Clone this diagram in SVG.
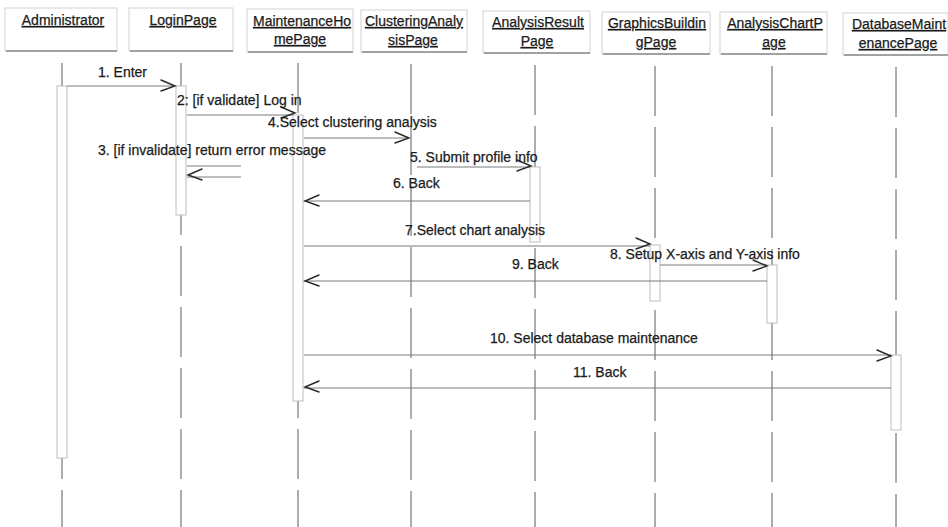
<svg xmlns="http://www.w3.org/2000/svg" xmlns:xlink="http://www.w3.org/1999/xlink" width="948" height="527" viewBox="0 0 948 527">
  <style>
    .hdr { fill: #ffffff; stroke: #d2d2d2; stroke-width: 1; }
    .shadow { stroke: #8a8a8a; stroke-width: 1.6; }
    .name { font-family: "Liberation Sans", Arial, sans-serif; font-size: 14px; fill: #1a1a1a; stroke: #1a1a1a; stroke-width: 0.25; text-anchor: middle; text-decoration: underline; }
    .life { stroke: #5a5a5a; stroke-width: 1; stroke-dasharray: 50 11; fill: none; }
    .act { fill: #ffffff; stroke: #bdbdbd; stroke-width: 1; }
    .msg { stroke: #7a7a7a; stroke-width: 1; fill: none; }
    .lbl { font-family: "Liberation Sans", Arial, sans-serif; font-size: 14px; fill: #1a1a1a; stroke: #1a1a1a; stroke-width: 0.25; }
    .head { stroke: #2a2a2a; stroke-width: 1.4; fill: none; stroke-linecap: round; stroke-linejoin: miter; }
  </style>
  <defs>
    <path id="ahR" class="head" d="M-14,-6 L0,0 L-14,5"/>
    <path id="ahL" class="head" d="M14,-6 L0,0 L14,5"/>
  </defs>
  <rect width="948" height="527" fill="#ffffff"/>

  <!-- Objects: header box, lifeline, activation bars -->
  <g id="administrator">
    <rect class="hdr" x="5" y="8" width="112" height="43"/>
    <line class="shadow" x1="6" y1="51" x2="117" y2="51"/>
    <text class="name" x="63" y="25">Administrator</text>
    <line class="life" x1="62" y1="63" x2="62" y2="527"/>
    <rect class="act" x="57" y="86" width="10" height="372"/>
  </g>

  <g id="loginPage">
    <rect class="hdr" x="129" y="8" width="104" height="43"/>
    <line class="shadow" x1="130" y1="51" x2="233" y2="51"/>
    <text class="name" x="183" y="25">LoginPage</text>
    <line class="life" x1="181" y1="63" x2="181" y2="527"/>
    <rect class="act" x="176" y="86" width="10" height="129"/>
  </g>

  <g id="maintenanceHomePage">
    <rect class="hdr" x="247" y="9" width="106" height="43"/>
    <line class="shadow" x1="248" y1="52" x2="353" y2="52"/>
    <text class="name" x="302" y="26">MaintenanceHo</text>
    <text class="name" x="300" y="44">mePage</text>
    <line class="life" x1="298" y1="63" x2="298" y2="527"/>
    <rect class="act" x="293" y="115" width="10" height="286"/>
  </g>

  <g id="clusteringAnalysisPage">
    <rect class="hdr" x="361" y="10" width="106" height="42"/>
    <line class="shadow" x1="362" y1="52" x2="467" y2="52"/>
    <text class="name" x="414" y="26">ClusteringAnaly</text>
    <text class="name" x="413" y="45">sisPage</text>
    <line class="life" x1="411" y1="64" x2="411" y2="527"/>
  </g>

  <g id="analysisResultPage">
    <rect class="hdr" x="483" y="11" width="107" height="42"/>
    <line class="shadow" x1="484" y1="53" x2="590" y2="53"/>
    <text class="name" x="538" y="27">AnalysisResult</text>
    <text class="name" x="537" y="46">Page</text>
    <line class="life" x1="535" y1="65" x2="535" y2="527"/>
    <rect class="act" x="530" y="167" width="10" height="75"/>
  </g>

  <g id="graphicsBuildingPage">
    <rect class="hdr" x="602" y="12" width="108" height="42"/>
    <line class="shadow" x1="603" y1="54" x2="710" y2="54"/>
    <text class="name" x="657" y="28">GraphicsBuildin</text>
    <text class="name" x="656" y="47">gPage</text>
    <line class="life" x1="655" y1="66" x2="655" y2="527"/>
    <rect class="act" x="650" y="245" width="10" height="56"/>
  </g>

  <g id="analysisChartPage">
    <rect class="hdr" x="720" y="12" width="107" height="42"/>
    <line class="shadow" x1="721" y1="54" x2="827" y2="54"/>
    <text class="name" x="775" y="28">AnalysisChartP</text>
    <text class="name" x="774" y="47">age</text>
    <line class="life" x1="772" y1="66" x2="772" y2="527"/>
    <rect class="act" x="767" y="265" width="10" height="58"/>
  </g>

  <g id="databaseMaintenancePage">
    <rect class="hdr" x="843" y="13" width="105" height="42"/>
    <line class="shadow" x1="844" y1="55" x2="948" y2="55"/>
    <text class="name" x="899" y="29">DatabaseMaint</text>
    <text class="name" x="898" y="48">enancePage</text>
    <line class="life" x1="896" y1="67" x2="896" y2="527"/>
    <rect class="act" x="891" y="355" width="10" height="75"/>
  </g>

  <!-- Messages -->
  <g id="messages">
    <line class="msg" x1="67" y1="86" x2="175" y2="86"/>
    <use xlink:href="#ahR" x="175" y="86"/>
    <text class="lbl" x="98" y="77">1. Enter</text>

    <line class="msg" x1="187" y1="115" x2="293" y2="115"/>
    <use xlink:href="#ahR" x="295" y="113"/>
    <text class="lbl" x="177" y="105">2: [if validate] Log in</text>

    <line class="msg" x1="187" y1="166" x2="241" y2="166"/>
    <line class="msg" x1="187" y1="177" x2="241" y2="177"/>
    <use xlink:href="#ahL" x="188" y="175"/>
    <text class="lbl" x="98" y="155">3. [if invalidate] return error message</text>

    <line class="msg" x1="304" y1="138" x2="409" y2="138"/>
    <use xlink:href="#ahR" x="409" y="138"/>
    <text class="lbl" x="268" y="127">4.Select clustering analysis</text>

    <line class="msg" x1="417" y1="167" x2="530" y2="167"/>
    <use xlink:href="#ahR" x="531" y="166"/>
    <text class="lbl" x="410" y="162">5. Submit profile info</text>

    <line class="msg" x1="530" y1="201" x2="304" y2="201"/>
    <use xlink:href="#ahL" x="305" y="201"/>
    <text class="lbl" x="393" y="188">6. Back</text>

    <line class="msg" x1="304" y1="246" x2="650" y2="246"/>
    <use xlink:href="#ahR" x="650" y="244"/>
    <text class="lbl" x="405" y="235">7.Select chart analysis</text>

    <line class="msg" x1="660" y1="265" x2="767" y2="265"/>
    <use xlink:href="#ahR" x="767" y="266"/>
    <text class="lbl" x="610" y="259">8. Setup X-axis and Y-axis info</text>

    <line class="msg" x1="767" y1="281" x2="304" y2="281"/>
    <use xlink:href="#ahL" x="305" y="281"/>
    <text class="lbl" x="512" y="269">9. Back</text>

    <line class="msg" x1="304" y1="355" x2="891" y2="355"/>
    <use xlink:href="#ahR" x="891" y="356"/>
    <text class="lbl" x="490" y="343">10. Select database maintenance</text>

    <line class="msg" x1="891" y1="388" x2="304" y2="388"/>
    <use xlink:href="#ahL" x="305" y="387"/>
    <text class="lbl" x="573" y="377">11. Back</text>
  </g>
</svg>
